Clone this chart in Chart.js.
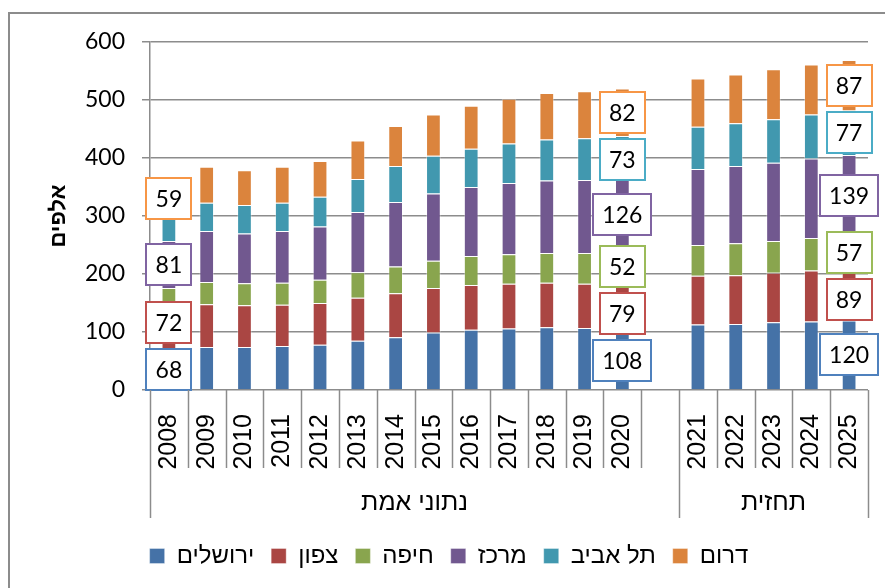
<!DOCTYPE html>
<html lang="he">
<head>
<meta charset="utf-8">
<title>אלפים לפי מחוז</title>
<script src="https://cdn.jsdelivr.net/npm/chart.js@4.4.1/dist/chart.umd.min.js"></script>
<style>
  html, body { margin: 0; padding: 0; background: #fff; }
  #wrap { position: relative; width: 885px; height: 588px; overflow: hidden; }
  #frame { position: absolute; left: 8px; top: 12px; width: 900px; height: 600px; border: 2px solid #8c8c8c; box-sizing: border-box; }
  #chart { position: absolute; left: 0; top: 0; }
</style>
</head>
<body>
<div id="wrap">
  <div id="frame"></div>
  <canvas id="chart" width="885" height="588"></canvas>
</div>
<script>
// categories (empty slot separates actuals from forecast)
const years = ['2008','2009','2010','2011','2012','2013','2014','2015','2016','2017','2018','2019','2020','',
               '2021','2022','2023','2024','2025'];

// thousands, per district
const jerusalem = [68, 74, 74, 76, 78, 85, 91, 99, 104, 106, 108, 107, 108, null, 113, 114, 117, 118, 120];
const north     = [72, 74, 72, 71, 72, 74, 76, 77, 77, 77, 77, 76, 79, null, 84, 84, 85, 88, 89];
const haifa     = [36, 38, 38, 38, 40, 44, 46, 47, 50, 51, 51, 53, 52, null, 53, 55, 55, 56, 57];
const center    = [81, 88, 86, 89, 92, 104, 111, 116, 119, 123, 125, 126, 126, null, 131, 133, 135, 137, 139];
const telAviv   = [44, 49, 49, 49, 51, 57, 62, 65, 66, 68, 71, 72, 73, null, 73, 74, 75, 76, 77];
const south     = [59, 62, 60, 62, 62, 66, 69, 71, 74, 77, 80, 81, 82, null, 83, 84, 86, 86, 87];

const seriesNames = ['ירושלים', 'צפון', 'חיפה', 'מרכז', 'תל אביב', 'דרום'];
const yTicks = [0, 100, 200, 300, 400, 500, 600];

// second row of the category axis
const groupLabels = ['נתוני אמת', 'תחזית'];
const groupStarts = [0, 14];

// which bars get boxed value labels (Excel dropped two of them on 2008)
const labeledYears = ['2008', '2020', '2025'];
const hiddenLabels = [[2, '2008'], [4, '2008']];

const fills   = ['#4572A7', '#AA4643', '#89A54E', '#71588F', '#4198AF', '#DB843D'];
const borders = ['#4F81BD', '#C0504D', '#9BBB59', '#8064A2', '#4BACC6', '#F79646'];
const gridGray = '#8c8c8c';

const seriesData = [jerusalem, north, haifa, center, telAviv, south];

// boxed labels, nudged apart like Excel does when they collide
const boxLabels = {
  id: 'boxLabels',
  afterDatasetsDraw(chart) {
    const ctx = chart.ctx;
    const bottom = chart.chartArea.bottom;
    ctx.save();
    ctx.font = '23px Lato';
    ctx.textAlign = 'center';
    ctx.textBaseline = 'middle';
    labeledYears.forEach(yr => {
      const idx = years.indexOf(yr);
      const boxes = [];
      chart.data.datasets.forEach((ds, di) => {
        if (hiddenLabels.some(h => h[0] === di && h[1] === yr)) return;
        const el = chart.getDatasetMeta(di).data[idx];
        const text = String(ds.data[idx]);
        boxes.push({
          x: el.x, y: (el.y + el.base) / 2, h: 41,
          w: Math.round(ctx.measureText(text).width + 18),
          text, color: borders[di]
        });
      });
      const gap = 6;
      // top-down: push lower boxes down
      for (let i = boxes.length - 2; i >= 0; i--) {
        const above = boxes[i + 1];
        const lim = above.y + above.h / 2 + gap + boxes[i].h / 2;
        if (boxes[i].y < lim) boxes[i].y = lim;
      }
      // keep inside plot, then bottom-up
      if (boxes[0].y + boxes[0].h / 2 > bottom) boxes[0].y = bottom - boxes[0].h / 2;
      for (let i = 1; i < boxes.length; i++) {
        const below = boxes[i - 1];
        const lim = below.y - below.h / 2 - gap - boxes[i].h / 2;
        if (boxes[i].y > lim) boxes[i].y = lim;
      }
      boxes.forEach(b => {
        const l = Math.round(b.x - b.w / 2), t = Math.round(b.y - b.h / 2);
        ctx.fillStyle = '#fff';
        ctx.fillRect(l, t, b.w, b.h);
        ctx.strokeStyle = b.color;
        ctx.lineWidth = 2;
        ctx.strokeRect(l, t, b.w, b.h);
        ctx.fillStyle = '#000';
        ctx.fillText(b.text, b.x, b.y + 1);
      });
    });
    ctx.restore();
  }
};

// category divider lines + group names under the years
const groupAxis = {
  id: 'groupAxis',
  afterDraw(chart) {
    const { ctx, chartArea } = chart;
    const x = chart.scales.x;
    const n = years.length;
    const edge = i => {
      if (i === 0) return chartArea.left;
      if (i === n) return chartArea.right;
      return (x.getPixelForValue(i - 1) + x.getPixelForValue(i)) / 2;
    };
    const y0 = chartArea.bottom;
    ctx.save();
    ctx.strokeStyle = gridGray;
    ctx.lineWidth = 1.5;
    for (let i = 0; i <= n; i++) {
      const isGroup = groupStarts.includes(i) || i === n;
      const px = Math.round(edge(i)) + 0.5;
      ctx.beginPath();
      ctx.moveTo(px, y0);
      ctx.lineTo(px, y0 + (isGroup ? 128 : 78));
      ctx.stroke();
    }
    ctx.fillStyle = '#000';
    ctx.font = '25px "Liberation Sans"';
    ctx.textAlign = 'center';
    ctx.textBaseline = 'middle';
    groupLabels.forEach((g, gi) => {
      const a = edge(groupStarts[gi]);
      const b = edge(gi + 1 < groupStarts.length ? groupStarts[gi + 1] : n);
      ctx.fillText(g, (a + b) / 2, y0 + 113);
    });
    ctx.restore();
  }
};

const padLeft = 30;

new Chart(document.getElementById('chart'), {
  type: 'bar',
  data: {
    labels: years,
    datasets: seriesNames.map((name, i) => ({
      label: name,
      data: seriesData[i],
      backgroundColor: fills[i],
      borderColor: 'rgba(255,255,255,0.35)',
      borderWidth: 1,
      barPercentage: 0.39,
      categoryPercentage: 1
    }))
  },
  options: {
    responsive: false,
    animation: false,
    layout: { padding: { left: padLeft, top: 42, right: 17, bottom: 10 } },
    plugins: {
      legend: {
        position: 'bottom',
        labels: {
          boxWidth: 15, boxHeight: 15, padding: 17,
          color: '#000',
          font: { family: '"Liberation Sans"', size: 24 }
        }
      },
      tooltip: { enabled: false }
    },
    scales: {
      x: {
        stacked: true,
        grid: { display: false },
        border: { display: false },
        ticks: {
          minRotation: 90, maxRotation: 90, autoSkip: false, padding: 16,
          color: '#000',
          font: { family: '"Liberation Sans"', size: 25 }
        },
        afterFit: s => { s.height = 137; s.paddingLeft = 0; s.paddingRight = 0; }
      },
      y: {
        stacked: true,
        min: 0, max: 600,
        afterBuildTicks: s => { s.ticks = yTicks.map(v => ({ value: v })); },
        grid: { color: gridGray, lineWidth: 1.5, tickLength: 8 },
        border: { color: gridGray, width: 1.5 },
        ticks: {
          padding: 17, color: '#000',
          font: { family: 'Lato', size: 23 }
        },
        title: {
          display: true, text: 'אלפים', color: '#000',
          font: { family: '"Liberation Sans"', size: 22, weight: 'bold' },
          padding: { top: 46 - padLeft, bottom: 0 }
        },
        afterFit: s => { s.width = 150 - padLeft; }
      }
    }
  },
  plugins: [boxLabels, groupAxis]
});
</script>
</body>
</html>
